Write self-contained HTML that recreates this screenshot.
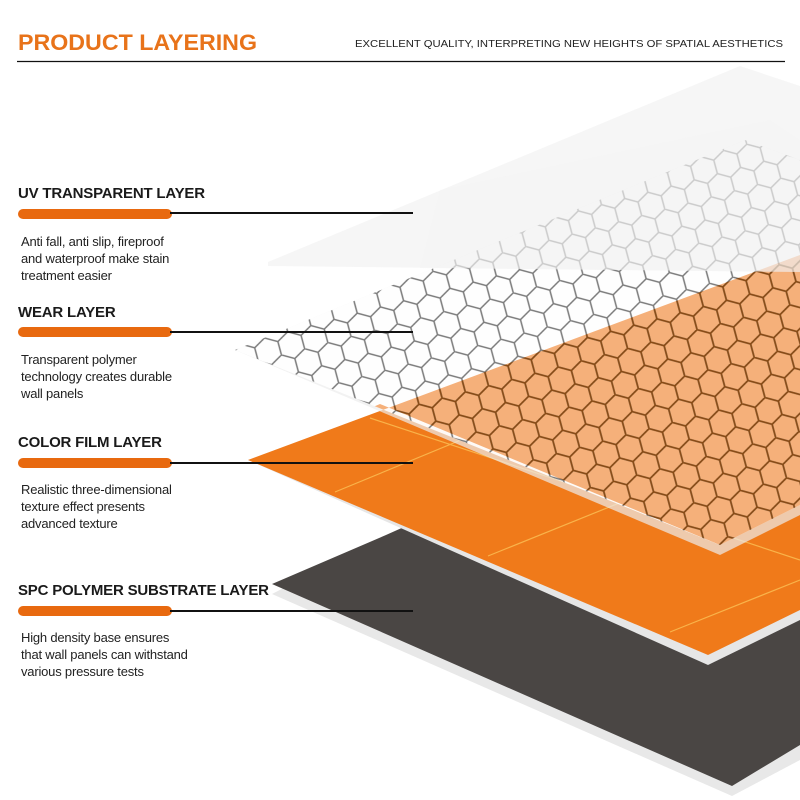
<!DOCTYPE html>
<html><head><meta charset="utf-8"><style>
body{margin:0;width:800px;height:800px;background:#fff;overflow:hidden;position:relative;font-family:"Liberation Sans",sans-serif;}
.t{position:absolute;left:18px;font-weight:bold;font-size:15px;color:#1a1a1a;letter-spacing:-0.2px}
.bar{position:absolute;left:18px;width:154px;height:10px;border-radius:5px;background:#e8690f}
.ln{position:absolute;left:170px;width:243px;height:2px;background:#111}
.d{position:absolute;left:21px;font-size:13px;line-height:17px;color:#222;letter-spacing:-0.2px}
</style></head><body>
<svg width="800" height="800" style="position:absolute;left:0;top:0">
<defs>
<pattern id="hex" width="24" height="41.57" patternUnits="userSpaceOnUse" patternTransform="rotate(-15)">
<path d="M0,6.93 L12,0 L24,6.93 M12,0 V-10 M0,6.93 V20.78 L12,27.71 L24,20.78 V6.93 M12,27.71 V41.57" fill="none" stroke="#7a7a7a" stroke-width="1.5"/>
</pattern>
<pattern id="hex2" width="24" height="41.57" patternUnits="userSpaceOnUse" patternTransform="rotate(-15)">
<path d="M0,6.93 L12,0 L24,6.93 M12,0 V-10 M0,6.93 V20.78 L12,27.71 L24,20.78 V6.93 M12,27.71 V41.57" fill="none" stroke="#8a4a12" stroke-width="1.6"/>
</pattern>
<clipPath id="wear"><polygon points="235,350 745,140 800,160 800,505 720,545"/></clipPath>
<clipPath id="orng"><polygon points="248,460 800,255 800,505 720,545 380,404"/></clipPath>
</defs>
<polygon points="272,594 386,535 800,360 800,760 732,796" fill="#e8e8e8"/>
<polygon points="272,584 386,535 800,350 800,745 732,786" fill="#4a4644"/>
<polygon points="248,460 800,255 800,620 708,665" fill="#e6e6e6"/>
<polygon points="248,460 800,255 800,610 708,655" fill="#f07a1a"/>
<g stroke="#f9b34a" stroke-width="1.2">
<line x1="335" y1="492" x2="800" y2="300"/>
<line x1="488" y1="556" x2="800" y2="430"/>
<line x1="670" y1="632" x2="800" y2="580"/>
<line x1="370" y1="418" x2="800" y2="560"/>
</g>
<polygon points="235,350 745,140 800,160 800,515 720,555" fill="#ececec" opacity="0.7"/>
<polygon points="235,350 745,140 800,160 800,505 720,545" fill="#fff" opacity="0.9"/>
<g clip-path="url(#orng)"><polygon points="235,350 800,100 800,560 720,545" fill="#f5b07a"/></g>
<g clip-path="url(#wear)"><rect x="0" y="0" width="800" height="800" fill="url(#hex)"/></g>
<g clip-path="url(#orng)"><g clip-path="url(#wear)"><rect x="0" y="0" width="800" height="800" fill="url(#hex2)"/></g></g>
<polygon points="268,262 740,66 800,86 800,272 268,266" fill="#eeeeee" opacity="0.55"/>
<polygon points="440,190 770,120 800,140 800,272 420,268" fill="#f3f3f3" opacity="0.3"/>
<text x="18" y="50" font-family="Liberation Sans" font-weight="bold" font-size="22" fill="#e8731a" textLength="239" lengthAdjust="spacingAndGlyphs">PRODUCT LAYERING</text>
<text x="783" y="47" text-anchor="end" font-family="Liberation Sans" font-size="10.5" fill="#222" textLength="428" lengthAdjust="spacingAndGlyphs">EXCELLENT QUALITY, INTERPRETING NEW HEIGHTS OF SPATIAL AESTHETICS</text>
<line x1="17" y1="61.5" x2="785" y2="61.5" stroke="#111" stroke-width="1.2"/>
</svg>
<div class="t" style="top:185px">UV TRANSPARENT LAYER</div>
<div class="bar" style="top:209px"></div><div class="ln" style="top:212px"></div>
<div class="d" style="top:233px">Anti fall, anti slip, fireproof<br>and waterproof make stain<br>treatment easier</div>
<div class="t" style="top:304px">WEAR LAYER</div>
<div class="bar" style="top:327px"></div><div class="ln" style="top:331px"></div>
<div class="d" style="top:351px">Transparent polymer<br>technology creates durable<br>wall panels</div>
<div class="t" style="top:434px">COLOR FILM LAYER</div>
<div class="bar" style="top:458px"></div><div class="ln" style="top:462px"></div>
<div class="d" style="top:481px">Realistic three-dimensional<br>texture effect presents<br>advanced texture</div>
<div class="t" style="top:582px">SPC POLYMER SUBSTRATE LAYER</div>
<div class="bar" style="top:606px"></div><div class="ln" style="top:610px"></div>
<div class="d" style="top:629px">High density base ensures<br>that wall panels can withstand<br>various pressure tests</div>
</body></html>
